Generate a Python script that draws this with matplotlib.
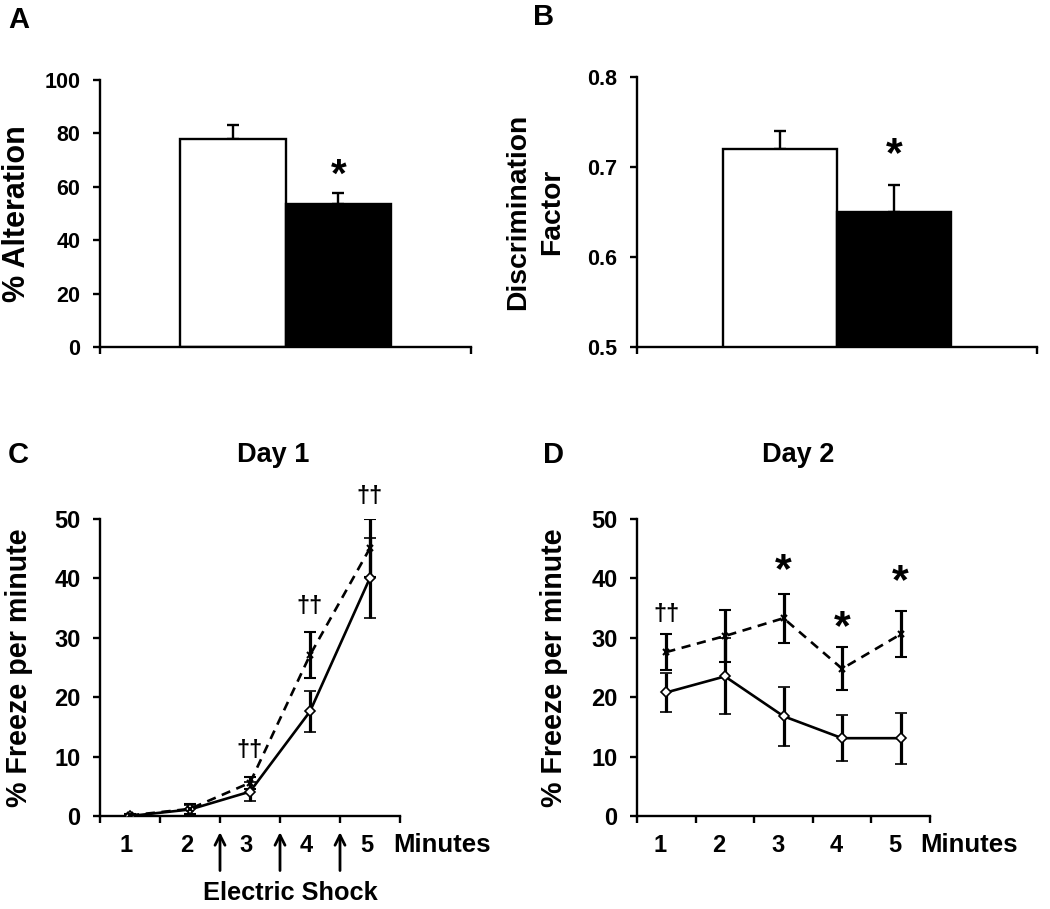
import matplotlib
matplotlib.use("Agg")
import matplotlib.pyplot as plt
import numpy as np

plt.rcParams['font.family'] = ['Liberation Sans', 'DejaVu Sans']
plt.rcParams['font.weight'] = 'bold'

# ---- data ----
barA_values = [78, 53.5]
barA_err = [5, 4.3]
barB_values = [0.72, 0.65]
barB_err = [0.02, 0.03]
bar_colors = ['white', 'black']

minute_labels = ['1', '2', '3', '4', '5']
day1_solid = [0, 1.1, 4.1, 17.6, 40.1]
day1_solid_err = [0.3, 0.8, 1.6, 3.5, 6.7]
day1_dashed = [0.1, 1.2, 5.6, 27.1, 45.1]
day1_dashed_err = [0.3, 0.8, 1.0, 3.9, 4.9]
day1_marks = ['', '', '††', '††', '††']
day1_mark_y = [None, None, 11, 35.2, 53.8]

day2_solid = [20.8, 23.5, 16.8, 13.1, 13.1]
day2_solid_err = [3.3, 6.4, 5.0, 3.9, 4.3]
day2_dashed = [27.6, 30.3, 33.3, 24.8, 30.6]
day2_dashed_err = [3.1, 4.3, 4.1, 3.6, 3.9]
day2_marks = ['††', '', '*', '*', '*']
day2_mark_y = [34, None, 41.3, 31.7, 39.4]

W, H = 1050, 909
fig = plt.figure(figsize=(W / 100, H / 100), dpi=100)

def fx(px):
    return px / W

def fy(py):
    return 1 - py / H

def box(l, r, t, b):
    return [fx(l), fy(b), fx(r) - fx(l), fy(t) - fy(b)]

LW = 1.7

def style_axes(ax, tickfs, pad=9):
    for s in ['top', 'right']:
        ax.spines[s].set_visible(False)
    for s in ['left', 'bottom']:
        ax.spines[s].set_linewidth(LW)
    ax.tick_params(axis='both', width=LW, length=5, direction='out',
                   labelsize=tickfs, pad=pad)
    for lab in ax.get_yticklabels():
        lab.set_fontweight('bold')

def place_ylabel(ax, text, fs, xcoord, **kw):
    ax.set_ylabel(text, fontsize=fs, fontweight='bold', **kw)
    ax.yaxis.label.set_verticalalignment('center')
    ax.yaxis.set_label_coords(xcoord, 0.5)

# ---- Panel A ----
axA = fig.add_axes(box(100, 471, 80, 347))
pos = [-0.285, 0.285]
axA.bar(pos, barA_values, width=0.57, color=bar_colors, edgecolor='black',
        linewidth=LW, zorder=2)
axA.errorbar(pos, barA_values, yerr=[[0, 0], barA_err], fmt='none',
             ecolor='black', elinewidth=LW, capsize=4, capthick=LW, zorder=1)
axA.set_xlim(-1, 1)
axA.set_ylim(0, 100)
axA.set_yticks([0, 20, 40, 60, 80, 100])
axA.set_xticks([-1, 1])
axA.set_xticklabels(['', ''])
style_axes(axA, 15.5)
place_ylabel(axA, '% Alteration', 22, -0.224)
axA.text(pos[1], 64, '*', ha='center', va='center', fontsize=29, fontweight='bold')
fig.text(fx(8), fy(20), 'A', fontsize=21, fontweight='bold', ha='left', va='center')

# ---- Panel B ----
axB = fig.add_axes(box(637, 1037, 77, 347))
axB.bar(pos, barB_values, width=0.57, color=bar_colors, edgecolor='black',
        linewidth=LW, zorder=2)
axB.errorbar(pos, barB_values, yerr=[[0, 0], barB_err], fmt='none',
             ecolor='black', elinewidth=LW, capsize=4, capthick=LW, zorder=1)
axB.set_xlim(-1, 1)
axB.set_ylim(0.5, 0.8)
axB.set_yticks([0.5, 0.6, 0.7, 0.8])
axB.set_yticklabels(['0.5', '0.6', '0.7', '0.8'])
axB.set_xticks([-1, 1])
axB.set_xticklabels(['', ''])
style_axes(axB, 15.5)
place_ylabel(axB, 'Discrimination\nFactor', 20.3, -0.255, linespacing=1.4)
axB.text(pos[1], 0.713, '*', ha='center', va='center', fontsize=31, fontweight='bold')
fig.text(fx(533), fy(17), 'B', fontsize=21, fontweight='bold', ha='left', va='center')

# ---- line panels ----
xs = np.arange(len(minute_labels)) + 0.5

def line_panel(ax, solid, solid_err, dashed, dashed_err, title, title_x,
               label_x, minutes_x, label_dx):
    ax.errorbar(xs, solid, yerr=solid_err, color='black', linewidth=LW + 0.2,
                marker='D', markersize=5, markerfacecolor='white',
                markeredgecolor='black', markeredgewidth=1.2,
                elinewidth=LW + 0.6, capsize=4, capthick=LW + 0.6, zorder=3)
    ax.errorbar(xs, dashed, yerr=dashed_err, color='black', linewidth=LW + 0.2,
                linestyle=(0, (3.5, 2.5)), marker='x', markersize=5,
                markeredgewidth=1.5, elinewidth=LW + 0.6, capsize=4,
                capthick=LW + 0.6, zorder=3)
    ax.set_xlim(0, 5)
    ax.set_ylim(0, 50)
    ax.set_yticks([0, 10, 20, 30, 40, 50])
    ax.set_xticks(np.arange(0, 6))
    ax.set_xticklabels([''] * 6)
    style_axes(ax, 17)
    place_ylabel(ax, '% Freeze per minute', 20.6, label_x)
    ax.set_title(title, fontsize=19.5, fontweight='bold', x=title_x, y=1.189,
                 va='center')
    for i, lab in enumerate(minute_labels):
        ax.text(xs[i] + label_dx, -0.098, lab, transform=ax.get_xaxis_transform(),
                ha='center', va='center', fontsize=17, fontweight='bold')
    ax.text(minutes_x, -0.098, 'Minutes', transform=ax.get_xaxis_transform(),
            ha='left', va='center', fontsize=18.5, fontweight='bold',
            clip_on=False)

# Panel C
axC = fig.add_axes(box(100, 400, 519, 816))
line_panel(axC, day1_solid, day1_solid_err, day1_dashed, day1_dashed_err, 'Day 1',
           0.577, -0.27, 4.88, -0.06)
for i, m in enumerate(day1_marks):
    if m:
        axC.text(xs[i], day1_mark_y[i], m, ha='center', va='center',
                 fontsize=17, fontweight='bold', clip_on=False)
for xa in [2, 3, 4]:
    axC.annotate('', xy=(xa, -0.045), xytext=(xa, -0.193),
                 xycoords=axC.get_xaxis_transform(),
                 textcoords=axC.get_xaxis_transform(),
                 arrowprops=dict(arrowstyle='->', lw=LW + 0.3, color='black',
                                 mutation_scale=18))
axC.text(3.17, -0.259, 'Electric Shock', transform=axC.get_xaxis_transform(),
         ha='center', va='center', fontsize=18.3, fontweight='bold')
fig.text(fx(8), fy(455), 'C', fontsize=21, fontweight='bold', ha='left', va='center')

# Panel D
axD = fig.add_axes(box(637, 930, 519, 816))
line_panel(axD, day2_solid, day2_solid_err, day2_dashed, day2_dashed_err, 'Day 2',
           0.55, -0.282, 4.83, -0.1)
for i, m in enumerate(day2_marks):
    if m == '*':
        axD.text(xs[i], day2_mark_y[i], m, ha='center', va='center',
                 fontsize=31, fontweight='bold', clip_on=False)
    elif m:
        axD.text(xs[i], day2_mark_y[i], m, ha='center', va='center',
                 fontsize=17, fontweight='bold', clip_on=False)
fig.text(fx(543), fy(455), 'D', fontsize=21, fontweight='bold', ha='left', va='center')

fig.savefig('out.png', dpi=100)
